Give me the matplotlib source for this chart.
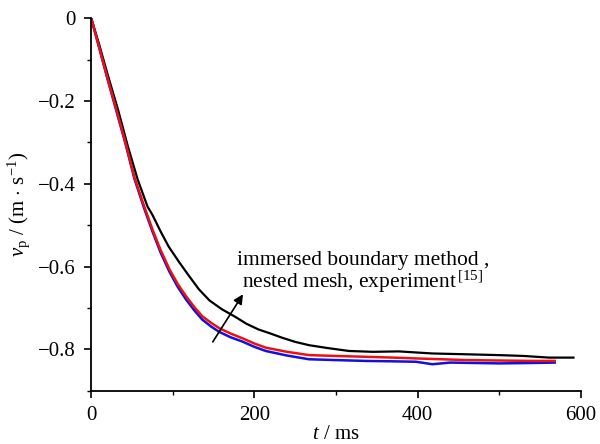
import matplotlib
matplotlib.use("Agg")
import matplotlib.pyplot as plt
from matplotlib.ticker import MultipleLocator

plt.rcParams["font.family"] = ["Liberation Serif", "DejaVu Serif"]
plt.rcParams["mathtext.fontset"] = "custom"
plt.rcParams["mathtext.rm"] = "Liberation Serif"
plt.rcParams["mathtext.it"] = "Liberation Serif:italic"

# experiment (black)
t_exp = [0, 10, 20, 33, 45, 57, 69, 75, 85, 95, 108, 120, 132, 145, 160, 177,
         190, 205, 220, 234, 250, 267, 290, 316, 345, 377, 418, 460, 500, 530,
         561, 591]
v_exp = [0, -0.065, -0.135, -0.222, -0.31, -0.39, -0.455, -0.475, -0.515,
         -0.552, -0.59, -0.623, -0.655, -0.682, -0.703, -0.722, -0.738,
         -0.752, -0.762, -0.772, -0.782, -0.79, -0.797, -0.804, -0.806,
         -0.805, -0.81, -0.812, -0.814, -0.816, -0.82, -0.82]

# nested mesh (red)
t_nest = [0, 10, 20, 30, 42, 53, 65, 75, 85, 96, 106, 116, 126, 136, 147,
          157, 171, 185, 200, 214, 240, 267, 300, 336, 370, 398, 430, 459,
          500, 540, 568]
v_nest = [0, -0.072, -0.145, -0.215, -0.3, -0.385, -0.455, -0.51, -0.56,
          -0.607, -0.642, -0.671, -0.697, -0.72, -0.736, -0.749, -0.762,
          -0.773, -0.786, -0.796, -0.806, -0.814, -0.816, -0.818, -0.82,
          -0.822, -0.824, -0.826, -0.827, -0.828, -0.828]

# immersed boundary method (blue)
t_ibm = [0, 10, 20, 30, 42, 53, 65, 75, 85, 96, 106, 116, 126, 136, 147,
         157, 171, 185, 200, 214, 240, 267, 300, 336, 370, 398, 418, 440,
         470, 500, 540, 568]
v_ibm = [0, -0.073, -0.147, -0.218, -0.303, -0.388, -0.46, -0.515, -0.566,
         -0.613, -0.649, -0.679, -0.705, -0.728, -0.745, -0.758, -0.771,
         -0.781, -0.794, -0.804, -0.815, -0.824, -0.826, -0.828, -0.829,
         -0.83, -0.836, -0.832, -0.833, -0.834, -0.833, -0.832]

x_ticks = [0, 200, 400, 600]
y_ticks = [0, -0.2, -0.4, -0.6, -0.8]
y_ticklabels = ["0", "\u22120.2", "\u22120.4", "\u22120.6", "\u22120.8"]

fig = plt.figure(figsize=(6.0, 4.44), dpi=100)
ax = fig.add_axes([0.152, 0.12, 0.816, 0.839])

ax.plot(t_exp, v_exp, color="black", lw=1.6)
ax.plot(t_ibm, v_ibm, color="#1010e0", lw=1.8)
ax.plot(t_nest, v_nest, color="#ee1010", lw=1.8)

ax.set_xlim(0, 600)
ax.set_ylim(-0.9, 0)
ax.set_xticks(x_ticks)
ax.set_xticklabels([str(t) for t in x_ticks])
ax.set_yticks(y_ticks)
ax.set_yticklabels(y_ticklabels)
ax.xaxis.set_minor_locator(MultipleLocator(100))
ax.yaxis.set_minor_locator(MultipleLocator(0.1))

for side in ("top", "right"):
    ax.spines[side].set_visible(False)
for side in ("left", "bottom"):
    ax.spines[side].set_linewidth(1.3)
ax.tick_params(which="major", direction="out", length=5, width=1.2,
               labelsize=15, pad=6)
ax.tick_params(which="minor", direction="out", length=3, width=1.0)

ax.set_xlabel(r"$t$ / ms", fontsize=15, labelpad=0)
ax.set_ylabel(r"$v_\mathrm{p}$ / (m $\cdot$ s$^{-1}$)", fontsize=15, labelpad=4)

ax.text(333, -0.597, "immersed boundary method ,", fontsize=15.5,
        ha="center", va="baseline")
ax.text(333, -0.652, r"nested mesh, experiment$^{\,[15]}$", fontsize=15.5,
        ha="center", va="baseline")
ax.annotate("", xy=(186, -0.667), xytext=(149, -0.782),
            arrowprops=dict(arrowstyle="-|>", color="black", lw=1.2,
                            mutation_scale=14, shrinkA=0, shrinkB=0))

fig.savefig("out.png", dpi=100)
